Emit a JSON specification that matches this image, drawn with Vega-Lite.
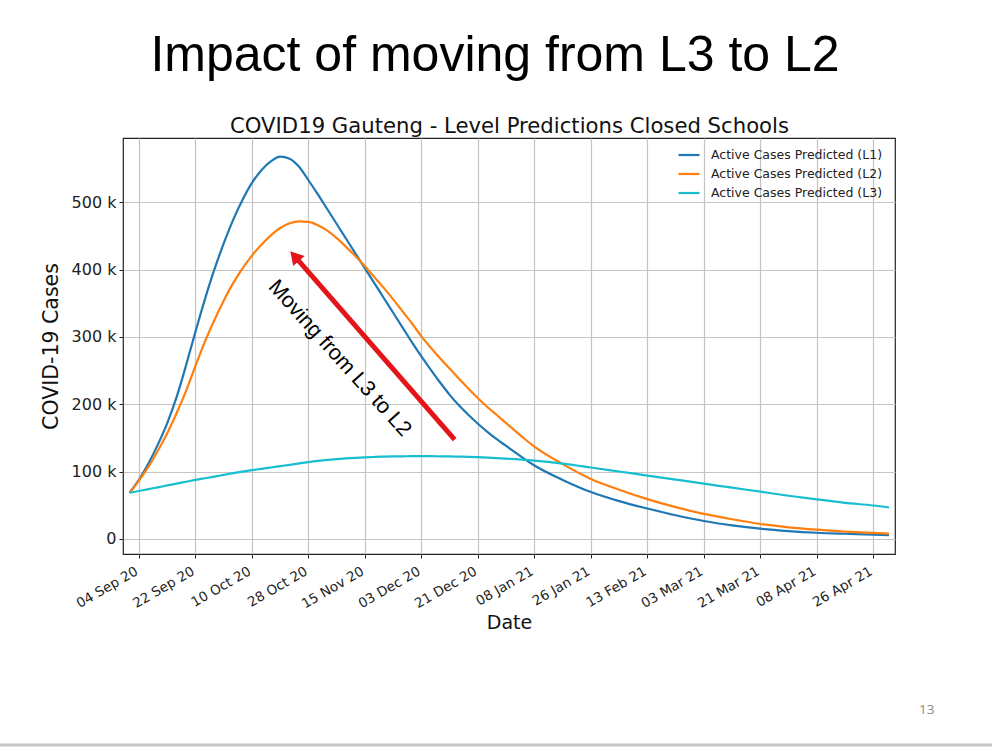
{
  "$schema": "https://vega.github.io/schema/vega-lite/v6.json",
  "width": 772,
  "height": 416,
  "autosize": {"type": "none"},
  "padding": {"left": 123, "top": 138, "right": 97, "bottom": 193},
  "background": "white",
  "title": {
    "text": "Impact of moving from L3 to L2",
    "font": "Liberation Sans",
    "fontSize": 50,
    "fontWeight": "normal",
    "color": "#000000",
    "anchor": "middle",
    "frame": "group",
    "dx": -14,
    "offset": 34
  },
  "config": {
    "view": {"stroke": "#222222", "strokeWidth": 1.2},
    "axis": {"labelFont": "DejaVu Sans", "titleFont": "DejaVu Sans", "titleFontWeight": "normal"}
  },
  "datasets": {
    "cases": [
      {"date": "2020-09-01T00:00", "L1": 68400, "L2": 68400, "L3": 68400},
      {"date": "2020-09-04T00:00", "L1": 88000, "L2": 87000, "L3": 71000},
      {"date": "2020-09-07T00:00", "L1": 112000, "L2": 107000, "L3": 73800},
      {"date": "2020-09-10T00:00", "L1": 140000, "L2": 131000, "L3": 76500},
      {"date": "2020-09-13T00:00", "L1": 172000, "L2": 157000, "L3": 79300},
      {"date": "2020-09-16T00:00", "L1": 211000, "L2": 187000, "L3": 82000},
      {"date": "2020-09-19T00:00", "L1": 258000, "L2": 220000, "L3": 84800},
      {"date": "2020-09-22T00:00", "L1": 308000, "L2": 257000, "L3": 87500},
      {"date": "2020-09-25T00:00", "L1": 356000, "L2": 293000, "L3": 90000},
      {"date": "2020-09-28T00:00", "L1": 400000, "L2": 325000, "L3": 92500},
      {"date": "2020-10-01T00:00", "L1": 439000, "L2": 354000, "L3": 95000},
      {"date": "2020-10-04T00:00", "L1": 474000, "L2": 380000, "L3": 97500},
      {"date": "2020-10-07T00:00", "L1": 504000, "L2": 402000, "L3": 99800},
      {"date": "2020-10-10T00:00", "L1": 529000, "L2": 421000, "L3": 102000},
      {"date": "2020-10-13T00:00", "L1": 548000, "L2": 437000, "L3": 104000},
      {"date": "2020-10-16T00:00", "L1": 561000, "L2": 451000, "L3": 106000},
      {"date": "2020-10-19T00:00", "L1": 568000, "L2": 462000, "L3": 108000},
      {"date": "2020-10-22T00:00", "L1": 565000, "L2": 469000, "L3": 110000},
      {"date": "2020-10-25T00:00", "L1": 553000, "L2": 472000, "L3": 112000},
      {"date": "2020-10-28T00:00", "L1": 533000, "L2": 471000, "L3": 114000},
      {"date": "2020-10-31T00:00", "L1": 512000, "L2": 466000, "L3": 115800},
      {"date": "2020-11-03T00:00", "L1": 490000, "L2": 458000, "L3": 117300},
      {"date": "2020-11-06T00:00", "L1": 468000, "L2": 447000, "L3": 118500},
      {"date": "2020-11-09T00:00", "L1": 446000, "L2": 434000, "L3": 119500},
      {"date": "2020-11-12T00:00", "L1": 424000, "L2": 420000, "L3": 120300},
      {"date": "2020-11-15T00:00", "L1": 402000, "L2": 405000, "L3": 121000},
      {"date": "2020-11-18T00:00", "L1": 380000, "L2": 389000, "L3": 121600},
      {"date": "2020-11-21T00:00", "L1": 358000, "L2": 373000, "L3": 122100},
      {"date": "2020-11-24T00:00", "L1": 336000, "L2": 356000, "L3": 122400},
      {"date": "2020-11-27T00:00", "L1": 314000, "L2": 338000, "L3": 122600},
      {"date": "2020-11-30T00:00", "L1": 292000, "L2": 320000, "L3": 122800},
      {"date": "2020-12-03T00:00", "L1": 271000, "L2": 301000, "L3": 122800},
      {"date": "2020-12-06T00:00", "L1": 251000, "L2": 284000, "L3": 122800},
      {"date": "2020-12-09T00:00", "L1": 232000, "L2": 268000, "L3": 122600},
      {"date": "2020-12-12T00:00", "L1": 214000, "L2": 253000, "L3": 122400},
      {"date": "2020-12-15T00:00", "L1": 198000, "L2": 238000, "L3": 122100},
      {"date": "2020-12-18T00:00", "L1": 184000, "L2": 223000, "L3": 121800},
      {"date": "2020-12-21T00:00", "L1": 171000, "L2": 209000, "L3": 121300},
      {"date": "2020-12-24T00:00", "L1": 159000, "L2": 196000, "L3": 120700},
      {"date": "2020-12-27T00:00", "L1": 148000, "L2": 184000, "L3": 120000},
      {"date": "2020-12-30T00:00", "L1": 138000, "L2": 172000, "L3": 119200},
      {"date": "2021-01-02T00:00", "L1": 128000, "L2": 160000, "L3": 118300},
      {"date": "2021-01-05T00:00", "L1": 118000, "L2": 148000, "L3": 117300},
      {"date": "2021-01-08T00:00", "L1": 109000, "L2": 137000, "L3": 116200},
      {"date": "2021-01-17T00:00", "L1": 87500, "L2": 111000, "L3": 111800},
      {"date": "2021-01-26T00:00", "L1": 69500, "L2": 89000, "L3": 106000},
      {"date": "2021-02-04T00:00", "L1": 56000, "L2": 73000, "L3": 100000},
      {"date": "2021-02-13T00:00", "L1": 45000, "L2": 59000, "L3": 94000},
      {"date": "2021-02-22T00:00", "L1": 35000, "L2": 47000, "L3": 88000},
      {"date": "2021-03-03T00:00", "L1": 26500, "L2": 37000, "L3": 82000},
      {"date": "2021-03-12T00:00", "L1": 20000, "L2": 29000, "L3": 76000},
      {"date": "2021-03-21T00:00", "L1": 15000, "L2": 22000, "L3": 70000},
      {"date": "2021-03-30T00:00", "L1": 11500, "L2": 17000, "L3": 64000},
      {"date": "2021-04-08T00:00", "L1": 9000, "L2": 13500, "L3": 58500},
      {"date": "2021-04-17T00:00", "L1": 7500, "L2": 10800, "L3": 53500},
      {"date": "2021-04-26T00:00", "L1": 6300, "L2": 8800, "L3": 49500},
      {"date": "2021-05-01T00:00", "L1": 5500, "L2": 7600, "L3": 46500}
    ],
    "arrow": [{"x0": "2020-12-13T14:00", "y0": 147500, "x1": "2020-10-23T14:00", "y1": 420200}],
    "label": [{"date": "2020-11-06T21:00", "value": 267900, "text": "Moving from L3 to L2"}],
    "page": [{"date": "2021-05-13T00:00", "value": -255000, "text": "13"}],
    "bar": [{"start": "2020-07-10T00:00", "end": "2021-06-15T00:00", "value": -306700}]
  },
  "layer": [
    {
      "data": {"name": "cases"},
      "transform": [{"fold": ["L1", "L2", "L3"], "as": ["series", "cases"]}],
      "mark": {"type": "line", "strokeWidth": 2.2, "interpolate": "monotone"},
      "encoding": {
        "x": {
          "field": "date", "type": "temporal",
          "scale": {"domain": [{"year": 2020, "month": 8, "date": 29, "hours": 21, "minutes": 40}, {"year": 2021, "month": 5, "date": 2, "hours": 21, "minutes": 40}]},
          "axis": {
            "values": [
              {"year": 2020, "month": 9, "date": 4}, {"year": 2020, "month": 9, "date": 22},
              {"year": 2020, "month": 10, "date": 10}, {"year": 2020, "month": 10, "date": 28},
              {"year": 2020, "month": 11, "date": 15}, {"year": 2020, "month": 12, "date": 3},
              {"year": 2020, "month": 12, "date": 21}, {"year": 2021, "month": 1, "date": 8},
              {"year": 2021, "month": 1, "date": 26}, {"year": 2021, "month": 2, "date": 13},
              {"year": 2021, "month": 3, "date": 3}, {"year": 2021, "month": 3, "date": 21},
              {"year": 2021, "month": 4, "date": 8}, {"year": 2021, "month": 4, "date": 26}
            ],
            "format": "%d %b %y",
            "labelAngle": -30, "labelAlign": "right", "labelBaseline": "top",
            "labelFontSize": 13.5, "labelColor": "#222222", "labelPadding": 6, "labelOffset": -6,
            "labelOverlap": false, "labelBound": false, "labelFlush": false,
            "tickSize": 4, "tickColor": "#222222", "tickWidth": 1,
            "domain": false, "grid": true, "gridColor": "#c4c4c4", "gridWidth": 1.2,
            "title": "Date", "titleFontSize": 19, "titleColor": "#111111", "titlePadding": 3
          }
        },
        "y": {
          "field": "cases", "type": "quantitative",
          "scale": {"domain": [-22600, 595800], "nice": false, "zero": false},
          "axis": {
            "values": [0, 100000, 200000, 300000, 400000, 500000],
            "labelExpr": "datum.value == 0 ? '0' : format(datum.value / 1000, 'd') + ' k'",
            "labelFontSize": 16, "labelColor": "#222222", "labelPadding": 3,
            "tickSize": 4, "tickColor": "#222222", "tickWidth": 1,
            "domain": false, "grid": true, "gridColor": "#c4c4c4", "gridWidth": 1.2,
            "title": "COVID-19 Cases", "titleFontSize": 20.5, "titleColor": "#111111", "titlePadding": 10
          }
        },
        "color": {
          "field": "series", "type": "nominal",
          "scale": {"domain": ["L1", "L2", "L3"], "range": ["#1f77b4", "#ff7f0e", "#17becf"]},
          "legend": {
            "title": null, "orient": "none", "legendX": 554, "legendY": 5,
            "symbolType": "stroke", "symbolSize": 441, "symbolStrokeWidth": 2.2,
            "labelFont": "DejaVu Sans", "labelFontSize": 12.5, "labelColor": "#222222",
            "labelOffset": 10, "rowPadding": -4, "padding": 0, "labelLimit": 300,
            "labelExpr": "'Active Cases Predicted (' + datum.label + ')'"
          }
        }
      }
    },
    {
      "data": {"name": "arrow"},
      "mark": {"type": "rule", "strokeWidth": 5, "color": "#e3151b"},
      "encoding": {
        "x": {"field": "x0", "type": "temporal", "axis": null, "scale": {"domain": [{"year": 2020, "month": 8, "date": 29, "hours": 21, "minutes": 40}, {"year": 2021, "month": 5, "date": 2, "hours": 21, "minutes": 40}]}},
        "y": {"field": "y0", "type": "quantitative", "axis": null, "scale": {"domain": [-22600, 595800], "nice": false, "zero": false}},
        "x2": {"field": "x1"},
        "y2": {"field": "y1"}
      }
    },
    {
      "data": {"name": "arrow"},
      "mark": {"type": "point", "shape": "triangle-up", "filled": true, "size": 230, "angle": -41, "color": "#e3151b", "opacity": 1, "strokeWidth": 0},
      "encoding": {
        "x": {"field": "x1", "type": "temporal", "axis": null, "scale": {"domain": [{"year": 2020, "month": 8, "date": 29, "hours": 21, "minutes": 40}, {"year": 2021, "month": 5, "date": 2, "hours": 21, "minutes": 40}]}},
        "y": {"field": "y1", "type": "quantitative", "axis": null, "scale": {"domain": [-22600, 595800], "nice": false, "zero": false}}
      }
    },
    {
      "data": {"name": "label"},
      "mark": {"type": "text", "angle": 48, "font": "Liberation Sans", "fontSize": 21.5, "color": "#000000", "align": "center", "baseline": "middle"},
      "encoding": {
        "x": {
          "field": "date", "type": "temporal",
          "scale": {"domain": [{"year": 2020, "month": 8, "date": 29, "hours": 21, "minutes": 40}, {"year": 2021, "month": 5, "date": 2, "hours": 21, "minutes": 40}]},
          "axis": {
            "orient": "top", "labels": false, "ticks": false, "domain": false, "grid": false,
            "title": "COVID19 Gauteng - Level Predictions Closed Schools",
            "titleFontSize": 21.2, "titleColor": "#111111", "titlePadding": 6, "titleBaseline": "alphabetic"
          }
        },
        "y": {"field": "value", "type": "quantitative", "axis": null, "scale": {"domain": [-22600, 595800], "nice": false, "zero": false}},
        "text": {"field": "text"}
      }
    },
    {
      "data": {"name": "page"},
      "mark": {"type": "text", "font": "Open Sans", "fontSize": 13.5, "color": "#8c8c8c", "align": "center", "baseline": "middle"},
      "encoding": {
        "x": {"field": "date", "type": "temporal", "axis": null, "scale": {"domain": [{"year": 2020, "month": 8, "date": 29, "hours": 21, "minutes": 40}, {"year": 2021, "month": 5, "date": 2, "hours": 21, "minutes": 40}]}},
        "y": {"field": "value", "type": "quantitative", "axis": null, "scale": {"domain": [-22600, 595800], "nice": false, "zero": false}},
        "text": {"field": "text"}
      }
    },
    {
      "data": {"name": "bar"},
      "mark": {"type": "rule", "strokeWidth": 3, "color": "#c6c6c6"},
      "encoding": {
        "x": {"field": "start", "type": "temporal", "axis": null, "scale": {"domain": [{"year": 2020, "month": 8, "date": 29, "hours": 21, "minutes": 40}, {"year": 2021, "month": 5, "date": 2, "hours": 21, "minutes": 40}]}},
        "x2": {"field": "end"},
        "y": {"field": "value", "type": "quantitative", "axis": null, "scale": {"domain": [-22600, 595800], "nice": false, "zero": false}}
      }
    }
  ],
  "resolve": {"axis": {"x": "independent", "y": "independent"}}
}
